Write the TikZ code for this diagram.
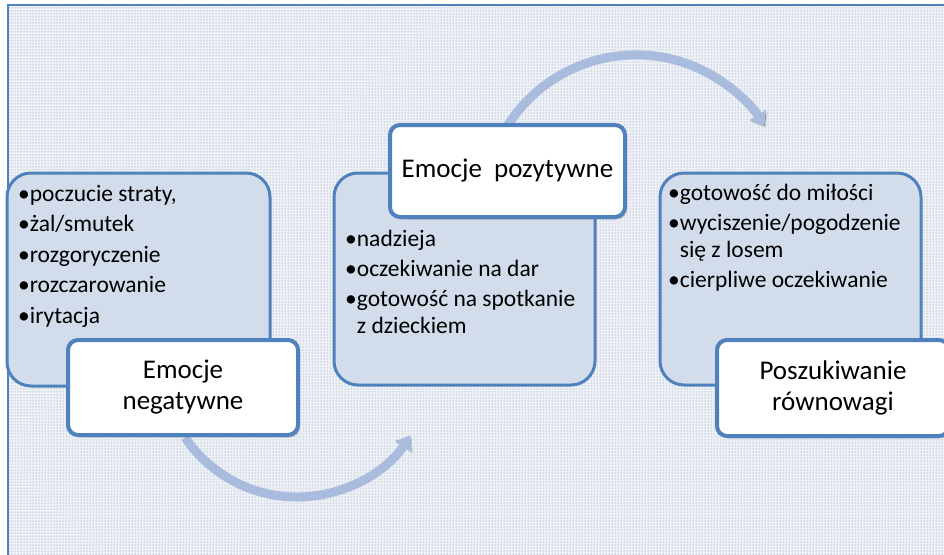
\documentclass[tikz,border=0pt]{standalone}
\usepackage{fontspec}
\setmainfont{Carlito}
\usetikzlibrary{arrows.meta,patterns,shadows}

\definecolor{frameblue}{RGB}{79,129,189}
\definecolor{bodyfill}{RGB}{211,220,235}
\definecolor{arcblue}{RGB}{169,188,222}
\definecolor{dotcol}{RGB}{120,140,175}
\definecolor{bgtint}{RGB}{238,241,246}

\tikzset{
  bodybox/.style={draw=frameblue, line width=3pt, fill=bodyfill, rounded corners=24pt},
  labelbox/.style={draw=frameblue, line width=4pt, fill=white, rounded corners=10pt, align=center, inner sep=0pt,
    font=\fontsize{27}{31}\selectfont,
    drop shadow={opacity=0.35, shadow xshift=2pt, shadow yshift=-2.5pt}},
  flowarc/.style={draw=arcblue, line width=9pt, -{Triangle[width=19pt,length=13pt]},
    preaction={draw=black, draw opacity=0.12, transform canvas={xshift=1.5pt, yshift=-2pt}}},
  bodytext/.style={anchor=north west, align=left, inner sep=0pt, font=\fontsize{23.5}{26.5}\selectfont},
}

\begin{document}
\begin{tikzpicture}[x=1pt,y=-1pt]
  \path[use as bounding box, clip] (0,0) rectangle (944,554);
  \fill[white] (0,0) rectangle (944,554);
  \fill[bgtint] (8,5) rectangle (960,565);
  \fill[pattern=dots, pattern color=dotcol] (8,5) rectangle (960,565);
  \draw[frameblue, line width=2.5pt] (8,5) rectangle (960,565);

  % flow arrows
  \coordinate (arcAstart) at (185.1,437.5);
  \coordinate (arcBstart) at (504.9,130);
  \draw[flowarc] (arcAstart) arc[start angle=146, end angle=33, radius=135];
  \draw[flowarc] (arcBstart) arc[start angle=210.4, end angle=327.8, radius=152];

  % body boxes
  \node[bodybox, minimum width=263pt, minimum height=213pt] (b1) at (138.5,279.5) {};
  \node[bodybox, minimum width=261pt, minimum height=212pt] (b2) at (464.5,279) {};
  \node[bodybox, minimum width=261pt, minimum height=212pt] (b3) at (790.5,279) {};

  % body texts
  \node[bodytext] (t1) at (18,182.5) {\strut•poczucie straty,\\[4pt]•żal/smutek\\[4pt]•rozgoryczenie\\[4pt]•rozczarowanie\\[4pt]•irytacja};
  \node[bodytext] (t2) at (345,227.5) {\strut•nadzieja\\[3.8pt]•oczekiwanie na dar\\[3.8pt]•gotowość na spotkanie\\\phantom{•}z dzieckiem};
  \node[bodytext] (t3) at (668,181.5) {\strut•gotowość do miłości\\[4pt]•wyciszenie/pogodzenie\\\phantom{•}się z losem\\[4pt]•cierpliwe oczekiwanie};

  % label boxes
  \node[labelbox, minimum width=230pt, minimum height=95pt] (l1) at (183,387.5) {Emocje\\negatywne};
  \node[labelbox, minimum width=235pt, minimum height=92pt] (l2) at (507.5,171) {Emocje\hspace{0.45em}pozytywne};
  \node[labelbox, minimum width=232pt, minimum height=96pt] (l3) at (833,388) {Poszukiwanie\\równowagi};
\end{tikzpicture}
\end{document}
